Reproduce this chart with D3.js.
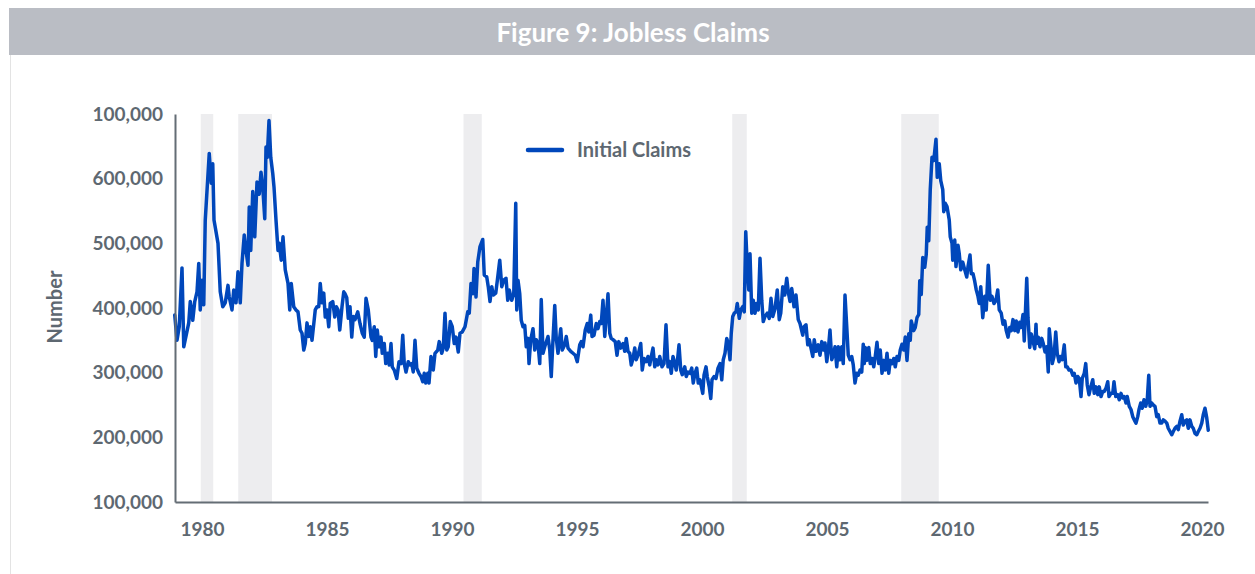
<!DOCTYPE html>
<html>
<head>
<meta charset="utf-8">
<script src="https://cdn.jsdelivr.net/npm/d3@7/dist/d3.min.js"></script>
<style>
	body { margin: 0; background: #fff; }
	text { font-family: "Source Sans Pro", Lato, "Open Sans", sans-serif; font-weight: 700; }
</style>
</head>
<body>
<div id="chart"></div>
<script>
// values: [decimal year, claims in thousands]
var claims1979_85 = [
	[1978.91,389],[1979.0,350],[1979.09,371],[1979.2,462],[1979.27,340],[1979.47,377],[1979.53,410],
	[1979.63,381],[1979.71,410],[1979.8,425],[1979.87,469],[1979.93,397],[1980.0,443],[1980.07,405],
	[1980.13,536],[1980.29,639],[1980.37,593],[1980.43,623],[1980.48,536],[1980.64,500],[1980.73,425],
	[1980.83,402],[1980.93,408],[1981.04,435],[1981.09,417],[1981.2,397],[1981.27,428],[1981.36,408],
	[1981.44,456],[1981.53,408],[1981.6,469],[1981.69,513],[1981.76,489],[1981.84,466],[1981.89,556],
	[1981.95,489],[1982.03,580],[1982.11,510],[1982.2,595],[1982.29,576],[1982.36,610],[1982.43,587],
	[1982.51,538],[1982.56,649],[1982.61,633],[1982.68,690],[1982.75,633],[1982.83,608],[1982.88,587],
	[1982.96,536],[1983.04,489],[1983.09,500],[1983.17,474],[1983.24,510],[1983.33,459],[1983.44,438],
	[1983.51,397],[1983.57,438],[1983.67,402],[1983.76,397],[1983.84,394],[1983.93,366],[1984.0,361],
	[1984.07,335],[1984.13,345],[1984.2,377],[1984.27,356],[1984.33,371],[1984.4,350],[1984.53,397],
	[1984.6,402],[1984.67,402],[1984.73,438],[1984.8,408],[1984.87,423],[1984.93,386],[1985.0,397],
	[1985.07,371],[1985.13,407],[1985.23,410],[1985.31,386],[1985.37,402],[1985.44,397],[1985.51,366],
	[1985.6,402],[1985.67,425]
];
var claims1985_92 = [
	[1985.72,422],[1985.79,416],[1985.85,384],[1985.92,402],[1985.99,355],[1986.05,387],[1986.12,382],
	[1986.23,394],[1986.32,376],[1986.41,361],[1986.49,355],[1986.56,415],[1986.65,397],[1986.76,355],
	[1986.81,350],[1986.89,371],[1986.95,325],[1987.01,366],[1987.08,340],[1987.16,355],[1987.21,330],
	[1987.29,345],[1987.35,314],[1987.43,330],[1987.49,312],[1987.56,345],[1987.61,309],[1987.69,304],
	[1987.79,291],[1987.88,317],[1987.96,314],[1988.03,358],[1988.09,314],[1988.16,301],[1988.25,317],
	[1988.32,312],[1988.39,314],[1988.45,301],[1988.52,350],[1988.59,307],[1988.68,299],[1988.76,294],
	[1988.83,286],[1988.89,299],[1988.95,284],[1989.03,299],[1989.08,284],[1989.16,325],[1989.25,304],
	[1989.32,330],[1989.43,335],[1989.49,348],[1989.59,330],[1989.65,338],[1989.72,392],[1989.79,335],
	[1989.85,340],[1989.93,379],[1990.01,371],[1990.09,345],[1990.16,355],[1990.25,332],[1990.32,361],
	[1990.41,363],[1990.52,371],[1990.63,394],[1990.69,392],[1990.76,438],[1990.84,422],[1990.88,461],
	[1990.96,417],[1991.03,471],[1991.12,495],[1991.23,506],[1991.29,451],[1991.39,448],[1991.45,433],
	[1991.52,410],[1991.59,433],[1991.65,420],[1991.75,423],[1991.83,448],[1991.91,474],[1991.99,433],
	[1992.07,443],[1992.16,446],[1992.23,412],[1992.29,428],[1992.39,412],[1992.47,422],[1992.55,562],
	[1992.59,397]
];
var claims1992_99 = [
	[1992.64,443],[1992.71,422],[1992.77,381],[1992.84,371],[1992.91,373],[1992.97,340],[1993.04,353],
	[1993.08,314],[1993.15,351],[1993.24,368],[1993.31,335],[1993.37,351],[1993.44,345],[1993.51,314],
	[1993.57,413],[1993.64,330],[1993.71,340],[1993.84,356],[1993.91,335],[1993.97,294],[1994.04,351],
	[1994.11,404],[1994.17,353],[1994.24,330],[1994.35,368],[1994.41,335],[1994.51,343],[1994.57,356],
	[1994.64,338],[1994.75,333],[1994.84,330],[1994.93,327],[1995.01,317],[1995.11,343],[1995.17,348],
	[1995.24,340],[1995.33,366],[1995.41,376],[1995.47,363],[1995.55,389],[1995.6,356],[1995.68,358],
	[1995.77,376],[1995.84,368],[1995.91,379],[1995.97,376],[1996.04,412],[1996.11,356],[1996.17,386],
	[1996.24,422],[1996.31,361],[1996.37,353],[1996.44,351],[1996.53,348],[1996.6,327],[1996.67,348],
	[1996.75,338],[1996.84,345],[1996.91,333],[1996.97,353],[1997.04,333],[1997.11,330],[1997.17,312],
	[1997.24,322],[1997.31,338],[1997.37,320],[1997.44,327],[1997.55,345],[1997.61,304],[1997.68,322],
	[1997.77,317],[1997.84,325],[1997.91,312],[1997.97,325],[1998.04,338],[1998.11,309],[1998.17,320],
	[1998.24,312],[1998.31,325],[1998.4,309],[1998.48,314],[1998.56,374],[1998.64,309],[1998.71,317],
	[1998.77,299],[1998.84,325],[1998.91,314],[1998.97,304],[1999.04,327],[1999.08,343],[1999.15,304],
	[1999.21,297],[1999.31,309],[1999.37,294],[1999.44,301]
];
var claims1999_06 = [
	[1999.52,299],[1999.59,307],[1999.65,284],[1999.72,299],[1999.79,307],[1999.85,284],[1999.92,289],
	[2000.03,268],[2000.08,296],[2000.16,309],[2000.21,294],[2000.29,278],[2000.35,260],[2000.4,289],
	[2000.48,294],[2000.56,291],[2000.64,307],[2000.72,314],[2000.79,289],[2000.85,320],[2000.92,330],
	[2000.99,353],[2001.05,345],[2001.12,320],[2001.17,361],[2001.23,387],[2001.29,392],[2001.36,394],
	[2001.41,407],[2001.49,384],[2001.55,397],[2001.63,402],[2001.69,394],[2001.75,518],[2001.81,464],
	[2001.87,428],[2001.92,484],[2001.99,392],[2002.05,412],[2002.12,392],[2002.19,407],[2002.25,397],
	[2002.32,477],[2002.39,412],[2002.45,379],[2002.52,387],[2002.61,392],[2002.69,384],[2002.76,415],
	[2002.83,387],[2002.92,399],[2003.01,428],[2003.09,382],[2003.15,392],[2003.23,433],[2003.31,420],
	[2003.39,446],[2003.45,425],[2003.52,410],[2003.59,430],[2003.68,402],[2003.76,420],[2003.85,382],
	[2003.92,376],[2004.03,358],[2004.08,371],[2004.16,374],[2004.23,343],[2004.29,351],[2004.36,338],
	[2004.43,325],[2004.49,351],[2004.56,333],[2004.65,343],[2004.72,327],[2004.79,348],[2004.85,335],
	[2004.92,346],[2004.99,317],[2005.05,335],[2005.12,366],[2005.19,320],[2005.25,327],[2005.32,340],
	[2005.39,309],[2005.45,340],[2005.52,320],[2005.59,340],[2005.65,314],[2005.72,420],[2005.79,371],
	[2005.85,327],[2005.92,320],[2005.99,325],[2006.05,312],[2006.12,284],[2006.19,299],[2006.25,296],
	[2006.32,304],[2006.39,301]
];
var claims2006_13 = [
	[2006.45,344],[2006.49,314],[2006.53,339],[2006.6,319],[2006.67,339],[2006.73,314],[2006.8,322],
	[2006.87,309],[2006.93,325],[2007.0,347],[2007.07,314],[2007.13,335],[2007.2,299],[2007.27,319],
	[2007.33,304],[2007.4,330],[2007.47,299],[2007.53,319],[2007.6,314],[2007.67,322],[2007.73,309],
	[2007.8,325],[2007.87,319],[2007.93,335],[2008.0,344],[2008.07,335],[2008.13,355],[2008.2,319],
	[2008.27,360],[2008.33,350],[2008.37,380],[2008.47,365],[2008.53,370],[2008.6,385],[2008.67,390],
	[2008.71,442],[2008.77,421],[2008.83,478],[2008.91,463],[2008.97,483],[2009.01,525],[2009.07,504],
	[2009.13,583],[2009.2,633],[2009.27,628],[2009.36,661],[2009.41,602],[2009.49,623],[2009.55,597],
	[2009.63,583],[2009.67,549],[2009.73,562],[2009.8,557],[2009.89,536],[2009.93,510],[2010.0,500],
	[2010.03,474],[2010.11,505],[2010.16,464],[2010.24,497],[2010.29,484],[2010.35,459],[2010.43,471],
	[2010.51,459],[2010.59,448],[2010.64,464],[2010.72,482],[2010.77,453],[2010.84,453],[2010.91,441],
	[2010.97,428],[2011.04,418],[2011.09,407],[2011.15,433],[2011.23,385],[2011.31,418],[2011.37,397],
	[2011.45,466],[2011.53,412],[2011.6,418],[2011.68,407],[2011.76,412],[2011.83,428],[2011.89,397],
	[2011.97,392],[2012.04,375],[2012.11,380],[2012.17,365],[2012.24,355],[2012.31,370],[2012.37,365],
	[2012.44,382],[2012.51,365],[2012.57,380],[2012.64,363],[2012.71,378],[2012.77,370],[2012.84,390],
	[2012.89,349],[2012.99,446],[2013.04,385],[2013.11,339],[2013.17,360],[2013.24,349],[2013.31,337]
];
var claims2013_20 = [
	[2013.36,375],[2013.39,345],[2013.45,355],[2013.52,340],[2013.59,353],[2013.65,345],[2013.72,332],
	[2013.79,340],[2013.85,301],[2013.89,368],[2013.96,340],[2014.01,314],[2014.08,325],[2014.15,363],
	[2014.21,330],[2014.28,317],[2014.35,325],[2014.41,320],[2014.49,343],[2014.55,309],[2014.61,309],
	[2014.68,304],[2014.76,304],[2014.83,296],[2014.89,299],[2014.96,284],[2015.03,294],[2015.09,291],
	[2015.16,263],[2015.21,291],[2015.29,299],[2015.35,314],[2015.41,281],[2015.48,266],[2015.55,278],
	[2015.63,289],[2015.69,268],[2015.76,278],[2015.83,266],[2015.89,278],[2015.96,263],[2016.03,271],
	[2016.09,271],[2016.16,276],[2016.23,286],[2016.28,263],[2016.36,268],[2016.43,268],[2016.48,286],
	[2016.55,263],[2016.63,266],[2016.69,258],[2016.76,268],[2016.83,261],[2016.89,263],[2016.96,253],
	[2017.01,263],[2017.09,248],[2017.16,243],[2017.23,232],[2017.29,227],[2017.36,222],[2017.43,232],
	[2017.48,243],[2017.55,253],[2017.61,245],[2017.68,258],[2017.75,248],[2017.81,258],[2017.87,296],
	[2017.92,248],[2017.99,253],[2018.05,250],[2018.12,248],[2018.19,232],[2018.25,235],[2018.32,222],
	[2018.39,222],[2018.45,227],[2018.52,225],[2018.59,222],[2018.65,214],[2018.72,209],[2018.79,204],
	[2018.85,209],[2018.92,214],[2018.99,217],[2019.05,212],[2019.12,225],[2019.19,235],[2019.25,219],
	[2019.32,225],[2019.39,227],[2019.45,214],[2019.52,227],[2019.59,217],[2019.65,214],[2019.72,206],
	[2019.79,204],[2019.85,209],[2019.92,214],[2019.99,222],[2020.05,235],[2020.12,245],[2020.19,230],
	[2020.25,211]
];

// shaded recession periods [start, end]
var recessions = [[1979.95, 1980.45], [1981.45, 1982.8], [1990.46, 1991.19], [2001.21, 2001.79], [2007.97, 2009.47]];

var xTicks = [1980, 1985, 1990, 1995, 2000, 2005, 2010, 2015, 2020];
var yTicks = [100000, 200000, 300000, 400000, 500000, 600000, 700000];
var yTickLabels = ["100,000", "200,000", "300,000", "400,000", "500,000", "600,000", "100,000"];

var title = "Figure 9: Jobless Claims";
var seriesName = "Initial Claims";
var yTitle = "Number";

var data = [].concat(claims1979_85, claims1985_92, claims1992_99, claims1999_06, claims2006_13, claims2013_20)
	.map(function(d) { return { year: d[0], value: d[1] * 1000 }; });

draw(data, 1255, 574);

function draw(data, width, height) {
	var grey = "#5e6871",
		blue = "#0047bb",
		plot = { left: 175, right: 1208, top: 114, bottom: 502 };

	var svg = d3.select("#chart").append("svg")
		.attr("width", width)
		.attr("height", height);

	// title bar
	svg.append("rect")
		.attr("x", 9).attr("y", 8)
		.attr("width", width - 9).attr("height", 47)
		.attr("fill", "#babdc4");
	svg.append("text")
		.attr("x", 633).attr("y", 42)
		.attr("text-anchor", "middle")
		.attr("fill", "#fff")
		.style("font-size", "26px")
		.text(title);
	svg.append("line")
		.attr("x1", 10.5).attr("x2", 10.5)
		.attr("y1", 55).attr("y2", height)
		.attr("stroke", "#e3e3e3");

	var x = d3.scaleLinear()
		.domain([1978.92, 2020.24])
		.range([plot.left, plot.right]);

	var y = d3.scaleLinear()
		.domain([100000, 700000])
		.range([plot.bottom, plot.top]);

	svg.append("g").selectAll("rect")
		.data(recessions)
		.enter().append("rect")
		.attr("x", function(d) { return x(d[0]); })
		.attr("width", function(d) { return x(d[1]) - x(d[0]); })
		.attr("y", plot.top)
		.attr("height", plot.bottom - plot.top)
		.attr("fill", "#ededef");

	var line = d3.line()
		.x(function(d) { return x(d.year); })
		.y(function(d) { return y(d.value); });

	svg.append("path")
		.datum(data)
		.attr("fill", "none")
		.attr("stroke", blue)
		.attr("stroke-width", 3.5)
		.attr("stroke-linejoin", "round")
		.attr("stroke-linecap", "round")
		.attr("d", line);

	var gx = svg.append("g")
		.attr("transform", "translate(0," + plot.bottom + ")")
		.call(d3.axisBottom(x).tickValues(xTicks).tickSize(0).tickPadding(21).tickFormat(d3.format("d")));

	var gy = svg.append("g")
		.attr("transform", "translate(" + plot.left + ",0)")
		.call(d3.axisLeft(y).tickValues(yTicks).tickSize(0).tickPadding(12)
			.tickFormat(function(d, i) { return yTickLabels[i]; }));

	[gx, gy].forEach(function(g) {
		g.select(".domain").attr("stroke", "#646d75").attr("stroke-width", 2);
		g.selectAll("text")
			.attr("fill", grey)
			.style("font-size", "19px")
			.style("font-family", "'Source Sans Pro', Lato, sans-serif")
			.style("font-weight", 700);
	});

	svg.append("text")
		.attr("transform", "translate(55,307) rotate(-90)")
		.attr("text-anchor", "middle")
		.attr("dy", "0.35em")
		.attr("fill", grey)
		.style("font-size", "20px")
		.text(yTitle);

	// legend
	svg.append("line")
		.attr("x1", 528).attr("x2", 562)
		.attr("y1", 150).attr("y2", 150)
		.attr("stroke", blue)
		.attr("stroke-width", 4.5)
		.attr("stroke-linecap", "round");
	svg.append("text")
		.attr("x", 577).attr("y", 150)
		.attr("dy", "0.35em")
		.attr("fill", grey)
		.style("font-size", "20px")
		.text(seriesName);
}
</script>
</body>
</html>
